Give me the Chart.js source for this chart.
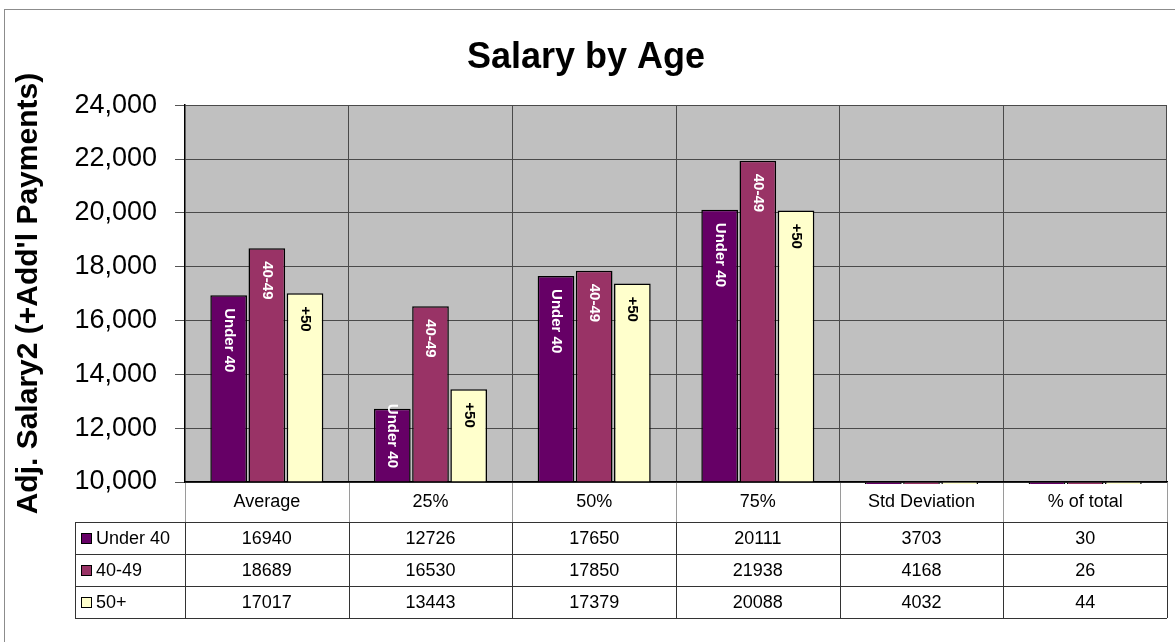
<!DOCTYPE html>
<html><head><meta charset="utf-8">
<script src="https://cdn.jsdelivr.net/npm/chart.js@4.4.1/dist/chart.umd.min.js"></script>
<style>html,body{margin:0;padding:0;background:#fff;}#wrap{width:1175px;height:642px;}</style>
</head><body><div id="wrap"><canvas id="c" width="1175" height="642"></canvas></div>
<script>
const categories = ['Average', '25%', '50%', '75%', 'Std Deviation', '% of total'];
const seriesNames = ['Under 40', '40-49', '50+'];
const barLabels = ['Under 40', '40-49', '+50'];
const under40 = [16940, 12726, 17650, 20111, 3703, 30];
const age4049 = [18689, 16530, 17850, 21938, 4168, 26];
const age50plus = [17017, 13443, 17379, 20088, 4032, 44];
const yMin = 10000, yMax = 24000, yStep = 2000;
const seriesColors = ['#660066', '#993366', '#FFFFCC'];
const labelColors = ['#ffffff', '#ffffff', '#000000'];
const FONT = "'Liberation Sans', Arial, sans-serif";

const seriesValues = [under40, age4049, age50plus];

const framePlugin = {
  id: 'frame',
  beforeDraw(chart) {
    const ctx = chart.ctx;
    const ca = chart.chartArea;
    ctx.save();
    ctx.fillStyle = '#fff';
    ctx.fillRect(0, 0, chart.width, chart.height);
    ctx.strokeStyle = '#8c8c8c';
    ctx.lineWidth = 1;
    ctx.strokeRect(4.5, 9.5, chart.width + 20, chart.height + 20);
    ctx.fillStyle = '#C0C0C0';
    ctx.fillRect(ca.left, ca.top, ca.right - ca.left, ca.bottom - ca.top);
    ctx.restore();
  }
};

const barTextPlugin = {
  id: 'barText',
  afterDatasetsDraw(chart) {
    const ctx = chart.ctx;
    const ys = chart.scales.y;
    ctx.save();
    ctx.font = 'bold 15px ' + FONT;
    chart.data.datasets.forEach((ds, di) => {
      const meta = chart.getDatasetMeta(di);
      meta.data.forEach((el, i) => {
        if (ds.data[i] <= ys.min) return;
        const txt = barLabels[di];
        const w = ctx.measureText(txt).width;
        const base = ys.getPixelForValue(ys.min);
        const start = Math.min(el.y + 13, base - 14 - w);
        ctx.save();
        ctx.translate(el.x, start);
        ctx.rotate(Math.PI / 2);
        ctx.fillStyle = labelColors[di];
        ctx.textAlign = 'left';
        ctx.textBaseline = 'middle';
        ctx.fillText(txt, 0, 0);
        ctx.restore();
      });
    });
    ctx.restore();
  }
};

const tablePlugin = {
  id: 'dataTable',
  afterDraw(chart) {
    const ctx = chart.ctx;
    const ca = chart.chartArea;
    const xs = chart.scales.x;
    const n = categories.length;
    const cw = (ca.right - ca.left) / n;
    const rowTop = 522, rowH = 32, tableLeft = 75;
    ctx.save();
    ctx.strokeStyle = '#9a9a9a';
    ctx.lineWidth = 1;
    for (let i = 0; i <= n; i++) {
      const x = Math.round(ca.left + i * cw) + 0.5;
      ctx.beginPath(); ctx.moveTo(x, ca.bottom + 1); ctx.lineTo(x, rowTop); ctx.stroke();
    }
    ctx.strokeStyle = '#333';
    const bottom = rowTop + rowH * seriesNames.length;
    for (let r = 0; r <= seriesNames.length; r++) {
      const y = rowTop + r * rowH + 0.5;
      ctx.beginPath(); ctx.moveTo(tableLeft, y); ctx.lineTo(ca.right, y); ctx.stroke();
    }
    ctx.beginPath(); ctx.moveTo(tableLeft + 0.5, rowTop); ctx.lineTo(tableLeft + 0.5, bottom); ctx.stroke();
    for (let i = 0; i <= n; i++) {
      const x = Math.round(ca.left + i * cw) + 0.5;
      ctx.beginPath(); ctx.moveTo(x, rowTop); ctx.lineTo(x, bottom); ctx.stroke();
    }
    ctx.font = '18px ' + FONT;
    ctx.textBaseline = 'middle';
    seriesNames.forEach((name, r) => {
      const cy = rowTop + r * rowH + rowH / 2 + 1;
      ctx.fillStyle = seriesColors[r];
      ctx.fillRect(81.5, cy - 5.5, 10, 10);
      ctx.strokeStyle = '#000';
      ctx.strokeRect(81.5, cy - 5.5, 10, 10);
      ctx.fillStyle = '#000';
      ctx.textAlign = 'left';
      ctx.fillText(name, 96, cy);
      ctx.textAlign = 'center';
      seriesValues[r].forEach((v, i) => {
        ctx.fillText(String(v), xs.getPixelForValue(i), cy);
      });
    });
    ctx.restore();
  }
};

new Chart(document.getElementById('c'), {
  type: 'bar',
  data: {
    labels: categories,
    datasets: seriesNames.map((name, i) => ({
      label: name,
      data: seriesValues[i],
      backgroundColor: seriesColors[i],
      borderColor: '#000',
      borderWidth: 1.5,
      base: yMin,
      clip: {left: 0, top: 0, right: 0, bottom: 2},
      categoryPercentage: 0.7,
      barPercentage: 0.96
    }))
  },
  options: {
    responsive: false,
    devicePixelRatio: 1,
    animation: false,
    layout: {padding: {top: 10, left: 5, right: 8, bottom: 0}},
    plugins: {
      legend: {display: false},
      tooltip: {enabled: false},
      title: {
        display: true,
        text: 'Salary by Age',
        color: '#000',
        font: {family: FONT, size: 36, weight: 'bold'},
        padding: {top: 26, bottom: 26}
      }
    },
    scales: {
      x: {
        ticks: {color: '#000', font: {family: FONT, size: 18}, padding: 9, maxRotation: 0},
        grid: {color: '#4a4a4a', drawTicks: false, offset: true},
        border: {color: '#000', width: 1.5},
        afterFit(s) { s.height = 160; }
      },
      y: {
        min: yMin, max: yMax,
        ticks: {stepSize: yStep, color: '#000', font: {family: FONT, size: 27}, padding: 18},
        grid: {color: '#4a4a4a', tickColor: '#555', tickLength: 10},
        border: {color: '#000', width: 1.5},
        title: {display: true, text: "Adj. Salary2 (+Add'l Payments)", color: '#000',
                font: {family: FONT, size: 30, weight: 'bold'}, padding: {top: 6, bottom: 0}},
        afterFit(s) { s.width = 180; }
      }
    }
  },
  plugins: [framePlugin, barTextPlugin, tablePlugin]
});
</script></body></html>
